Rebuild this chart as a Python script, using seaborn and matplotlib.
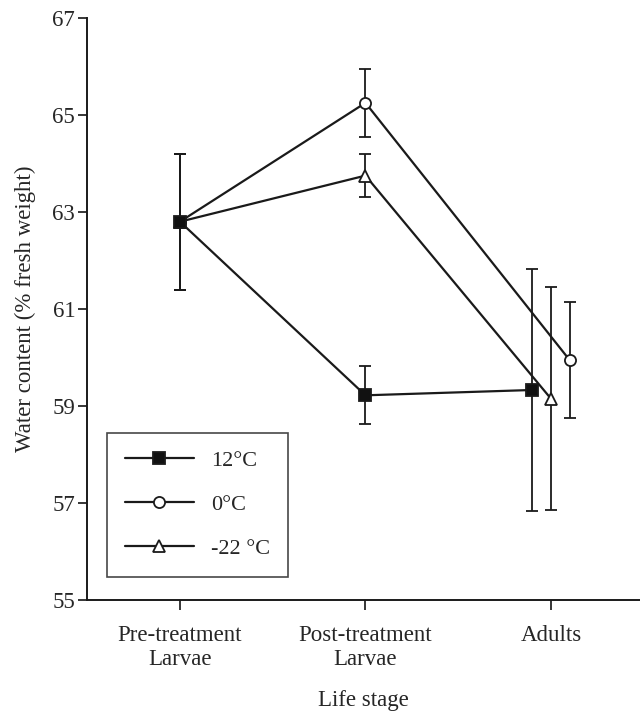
import numpy as np
import pandas as pd
import matplotlib
matplotlib.use("Agg")
import matplotlib.pyplot as plt
import seaborn as sns
from matplotlib.lines import Line2D

# ---- data ----
stages = ["Pre-treatment\nLarvae", "Post-treatment\nLarvae", "Adults"]
series = ["12°C", "0°C", "-22 °C"]
mean_12 = [62.8, 59.22, 59.33]
err_12 = [1.4, 0.6, 2.5]
mean_0 = [62.8, 65.25, 59.95]
err_0 = [1.4, 0.7, 1.2]
mean_m22 = [62.8, 63.75, 59.15]
err_m22 = [1.4, 0.45, 2.3]

means = {"12°C": mean_12, "0°C": mean_0, "-22 °C": mean_m22}
errs = {"12°C": err_12, "0°C": err_0, "-22 °C": err_m22}

# horizontal dodge applied only at the Adults stage
dodge = {"12°C": -0.1, "0°C": 0.1, "-22 °C": 0.0}

rows = []
for s in series:
    for i, st in enumerate(stages):
        x = i + (dodge[s] if i == 2 else 0.0)
        rows.append({"series": s, "x": x, "value": means[s][i], "err": errs[s][i]})
df = pd.DataFrame(rows)

sns.set_style("ticks")
plt.rcParams["font.family"] = ["Liberation Serif", "DejaVu Serif"]

fig = plt.figure(figsize=(6.4, 7.13), dpi=100)
ax = fig.add_axes([0.136, 0.1585, 0.864, 0.8163])

markers = {"12°C": "s", "0°C": "o", "-22 °C": "^"}
facecolors = {"12°C": "#111111", "0°C": "white", "-22 °C": "white"}
ink = "#1a1a1a"

for s in series:
    d = df[df.series == s]
    ax.errorbar(d["x"], d["value"], yerr=d["err"], fmt="none",
                ecolor=ink, elinewidth=1.3, capsize=4.3, capthick=1.3, zorder=2)

draw_order = ["-22 °C", "0°C", "12°C"]
for k, s in enumerate(draw_order):
    d = df[df.series == s]
    sns.lineplot(data=d, x="x", y="value", color=ink, marker=markers[s],
                 sort=False, lw=1.6, markersize=8, markeredgewidth=1.3,
                 markerfacecolor=facecolors[s], markeredgecolor=ink,
                 ax=ax, legend=False, zorder=3 + k)

handles = [Line2D([], [], color=ink, lw=1.6, marker=markers[s],
                  markerfacecolor=facecolors[s], markeredgecolor=ink,
                  markersize=8, markeredgewidth=1.3) for s in series]
leg = ax.legend(handles, series, loc="lower left", bbox_to_anchor=(0.036, 0.04),
                frameon=True, fancybox=False, fontsize=16, handlelength=3.1,
                labelspacing=1.05, borderpad=0.8, handletextpad=0.8,
                borderaxespad=0)
leg.get_frame().set_edgecolor(ink)
leg.get_frame().set_linewidth(1.2)

ax.set_xlim(-0.501, 2.48)
ax.set_ylim(55, 67)
ax.set_yticks(np.arange(55, 68, 2))
ax.set_xticks(range(len(stages)))
ax.set_xticklabels(stages, fontsize=16.5, linespacing=1.2)
ax.tick_params(axis="y", labelsize=16.5, direction="out", length=6.5, width=1.3, pad=2)
ax.tick_params(axis="x", direction="out", length=7, width=1.3, pad=11)
ax.set_xlabel("Life stage", fontsize=16.5, labelpad=14)
ax.set_ylabel("Water content (% fresh weight)", fontsize=16.5, labelpad=12)

for sp in ["top", "right"]:
    ax.spines[sp].set_visible(False)
for sp in ["left", "bottom"]:
    ax.spines[sp].set_linewidth(1.4)
    ax.spines[sp].set_color(ink)

fig.savefig("out.png", dpi=100)
